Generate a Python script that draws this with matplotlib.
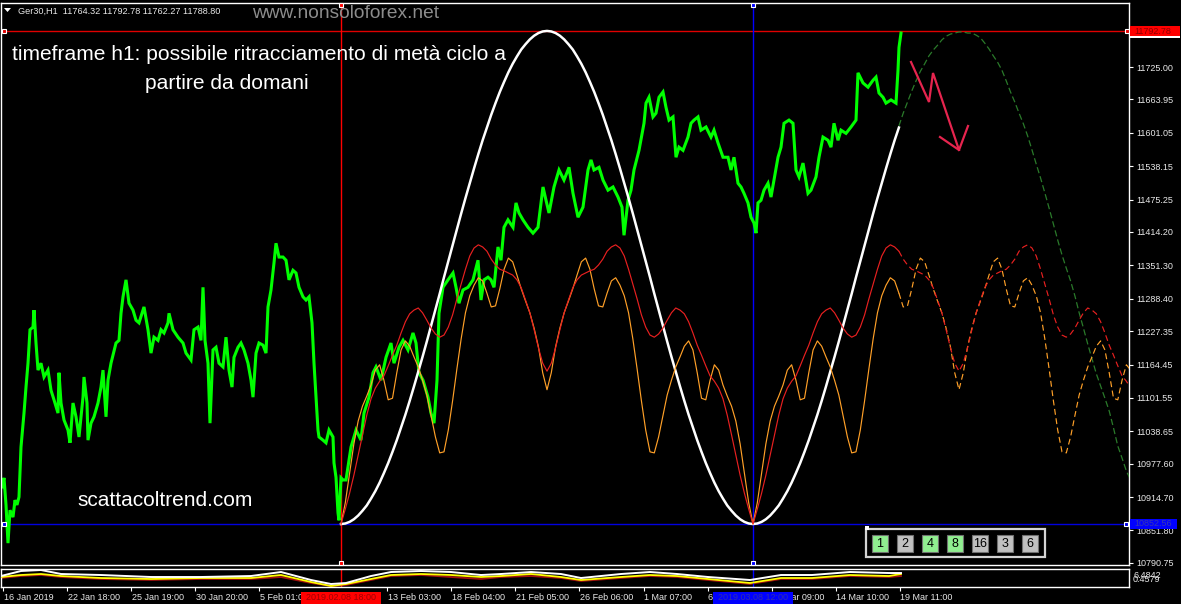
import numpy as np
import matplotlib
matplotlib.use("Agg")
import matplotlib.pyplot as plt
from matplotlib.patches import Rectangle, Polygon
from matplotlib.lines import Line2D
from matplotlib.transforms import ScaledTranslation

plt.rcParams['font.family'] = ['Liberation Sans', 'DejaVu Sans']

# ---------------- data ----------------
symbol_header = "Ger30,H1  11764.32 11792.78 11762.27 11788.80"
watermark = "www.nonsoloforex.net"
note_line1 = "timeframe h1: possibile ritracciamento di metà ciclo a"
note_line2 = "partire da domani"
site_label = "scattacoltrend.com"

# hourly price (bar index, close)
price_bars = [1, 3, 5, 7, 9, 12, 14, 16, 18, 20, 23, 25, 27, 29, 32, 33, 35, 37, 40, 43, 47, 50, 53, 57, 58,
              60, 63, 67, 69, 72, 75, 78, 82, 83, 86, 87, 90, 93, 97, 100, 102, 105, 107, 110, 115, 118, 120,
              122, 125, 128, 132, 135, 138, 142, 143, 147, 150, 153, 157, 160, 163, 167, 168, 172, 177, 182,
              185, 190, 193, 197, 200, 202, 204, 207, 209, 212, 215, 218, 222, 225, 228, 231, 233, 237, 240,
              243, 247, 250, 252, 255, 258, 262, 265, 267, 270, 273, 275, 278, 282, 285, 288, 292, 295, 298,
              302, 305, 308, 311, 313, 315, 317, 318, 322, 325, 328, 332, 333, 335, 337, 338, 340, 342, 345,
              350, 355, 360, 363, 368, 372, 375, 380, 385, 390, 393, 398, 402, 407, 412, 415, 418, 422, 427,
              430, 433, 436, 438, 442, 447, 452, 455, 458, 462, 467, 472, 477, 480, 483, 487, 490, 493, 497,
              500, 503, 507, 512, 515, 518, 522, 527, 532, 537, 542, 545, 548, 553, 558, 563, 568, 572, 577,
              582, 587, 590, 593, 598, 602, 607, 612, 617, 621, 623, 627, 630, 633, 638, 643, 645, 648, 652,
              655, 658, 662, 665, 668, 672, 675, 678, 682, 687, 690, 693, 697, 700, 705, 710, 713, 717, 722,
              727, 730, 733, 737, 740, 743, 747, 750, 753, 755, 757, 760, 763, 767, 770, 773, 777, 780, 783,
              788, 792, 795, 798, 802, 807, 810, 815, 818, 822, 827, 830, 833, 837, 840, 845, 850, 855, 857,
              862, 867, 872, 875, 878, 882, 885, 890, 895, 897, 898, 900]
price_close = [10934, 10951, 10900, 10828, 10890, 10877, 10909, 10900, 10915, 11009, 11073, 11122, 11167, 11230,
               11235, 11267, 11205, 11154, 11167, 11141, 11154, 11116, 11098, 11073, 11149, 11092, 11060, 11041,
               11017, 11092, 11066, 11028, 11103, 11141, 11092, 11022, 11054, 11066, 11092, 11122, 11154, 11066,
               11135, 11167, 11205, 11210, 11261, 11292, 11324, 11280, 11267, 11248, 11243, 11267, 11273, 11230,
               11186, 11216, 11210, 11230, 11224, 11243, 11261, 11230, 11216, 11205, 11186, 11173, 11230, 11235,
               11210, 11310, 11210, 11167, 11054, 11192, 11197, 11167, 11160, 11216, 11154, 11122, 11178, 11197,
               11205, 11192, 11167, 11135, 11103, 11186, 11205, 11201, 11186, 11273, 11305, 11356, 11393, 11367,
               11367, 11361, 11324, 11342, 11337, 11310, 11292, 11286, 11292, 11243, 11167, 11103, 11041, 11028,
               11022, 11017, 11041, 11028, 10979, 10952, 10885, 10871, 10951, 10947, 10947, 11009, 11041, 11022,
               11073, 11103, 11149, 11160, 11135, 11178, 11205, 11167, 11197, 11210, 11192, 11224, 11205, 11149,
               11135, 11103, 11073, 11054, 11135, 11261, 11310, 11324, 11337, 11310, 11280, 11305, 11310, 11324,
               11361, 11286, 11324, 11329, 11324, 11310, 11386, 11361, 11423, 11437, 11423, 11469, 11450, 11437,
               11423, 11412, 11423, 11499, 11474, 11450, 11499, 11531, 11512, 11536, 11487, 11442, 11461, 11531,
               11550, 11531, 11536, 11512, 11493, 11499, 11480, 11461, 11408, 11474, 11493, 11531, 11568, 11619,
               11657, 11668, 11631, 11638, 11668, 11678, 11649, 11625, 11631, 11555, 11574, 11568, 11593, 11619,
               11625, 11631, 11606, 11612, 11593, 11606, 11582, 11555, 11555, 11531, 11555, 11506, 11499, 11487,
               11469, 11442, 11431, 11412, 11469, 11474, 11493, 11506, 11480, 11512, 11555, 11574, 11619, 11625,
               11619, 11531, 11518, 11544, 11487, 11493, 11518, 11555, 11593, 11587, 11574, 11619, 11587, 11606,
               11600, 11612, 11625, 11714, 11695, 11687, 11700, 11706, 11676, 11668, 11657, 11663, 11657, 11719,
               11762, 11789]

# cycle lines: one value every (cycle_end_bar - cycle_start_bar)/96 bars, starting at cycle_start_bar
cycle_start_bar = 340
cycle_end_bar = 752
cycle_samples_per_period = 96

white_cycle = [10864, 10865, 10868, 10873, 10880, 10889, 10899, 10912, 10926, 10942, 10960, 10979, 11000,
               11022, 11046, 11070, 11096, 11123, 11151, 11179, 11208, 11238, 11268, 11298, 11329, 11359,
               11389, 11419, 11449, 11478, 11506, 11534, 11561, 11587, 11611, 11635, 11657, 11678, 11697,
               11715, 11731, 11745, 11758, 11768, 11777, 11784, 11789, 11792, 11793,
               11792, 11789, 11784, 11777, 11768, 11758, 11745, 11731, 11715, 11697, 11678, 11657, 11635,
               11611, 11587, 11561, 11534, 11506, 11478, 11449, 11419, 11389, 11359, 11329, 11298, 11268,
               11238, 11208, 11179, 11151, 11123, 11096, 11070, 11046, 11022, 11000, 10979, 10960, 10942,
               10926, 10912, 10899, 10889, 10880, 10873, 10868, 10865, 10864,
               10865, 10868, 10873, 10880, 10889, 10899, 10912, 10926, 10942, 10960, 10979, 11000, 11022,
               11046, 11070, 11096, 11123, 11151, 11179, 11208, 11238, 11268, 11298, 11329, 11359, 11389,
               11419, 11449, 11478, 11506, 11534, 11561, 11587, 11611]

projection_cycle = [11614, 11638, 11659, 11680, 11699, 11717, 11731, 11746, 11757, 11766, 11776, 11783, 11787,
                    11789, 11791, 11791, 11789, 11789, 11785, 11780, 11770, 11759, 11746, 11734, 11719, 11699,
                    11678, 11659, 11638, 11618, 11595, 11569, 11542, 11516, 11488, 11459, 11429, 11399, 11371,
                    11346, 11322, 11294, 11262, 11233, 11203, 11175, 11147, 11124, 11101, 11077, 11045, 11011,
                    10988, 10964, 10947]

red_cycle = [10864, 10892, 10922, 10956, 10994, 11032, 11069, 11100, 11120, 11133, 11143, 11162, 11182, 11201,
             11224, 11245, 11260, 11267, 11271, 11262, 11248, 11233, 11222, 11216, 11220, 11235, 11258, 11288,
             11316, 11344, 11369, 11384, 11390, 11386, 11378, 11363, 11352, 11344, 11341, 11337, 11333, 11324,
             11309, 11286, 11262, 11230, 11196, 11167, 11152,
             11167, 11196, 11230, 11262, 11286, 11309, 11324, 11333, 11337, 11341, 11344, 11352, 11363, 11378,
             11386, 11390, 11384, 11369, 11344, 11316, 11288, 11258, 11235, 11220, 11216, 11222, 11233, 11248,
             11262, 11271, 11267, 11260, 11245, 11224, 11201, 11182, 11162, 11143, 11133, 11120, 11100, 11069,
             11032, 10994, 10956, 10922, 10892, 10864,
             10892, 10922, 10956, 10994, 11032, 11069, 11100, 11120, 11133, 11143, 11162, 11182, 11201, 11224,
             11245, 11260, 11267, 11271, 11262, 11248, 11233, 11222, 11216, 11220, 11235, 11258, 11288, 11316,
             11344, 11369, 11384, 11390, 11386, 11378, 11363, 11352, 11344, 11341, 11337, 11333, 11324, 11309,
             11286, 11262, 11230, 11196, 11167, 11152,
             11167, 11196, 11230, 11262, 11286, 11309, 11324, 11333, 11337, 11341, 11344, 11352, 11363, 11378,
             11386, 11390, 11384, 11369, 11344, 11316, 11288, 11258, 11235, 11220, 11216, 11222, 11233, 11248,
             11262, 11271, 11267, 11260, 11245, 11224, 11201, 11182, 11162, 11143, 11133, 11120]

orange_cycle = [10864, 10904, 10960, 11015, 11058, 11086, 11105, 11126, 11154, 11164, 11135, 11098, 11101,
                11149, 11192, 11209, 11199, 11179, 11160, 11135, 11107, 11068, 11028, 10998, 11000, 11041,
                11096, 11156, 11213, 11262, 11294, 11314, 11328, 11322, 11299, 11273, 11275, 11307, 11344,
                11365, 11358, 11333, 11307, 11284, 11262, 11233, 11198, 11149, 11117,
                11149, 11198, 11233, 11262, 11284, 11307, 11333, 11358, 11365, 11344, 11307, 11275, 11273,
                11299, 11322, 11328, 11314, 11294, 11262, 11213, 11156, 11096, 11041, 11000, 10998, 11028,
                11068, 11107, 11135, 11160, 11179, 11199, 11209, 11192, 11149, 11101, 11098, 11135, 11164,
                11154, 11126, 11105, 11086, 11058, 11015, 10960, 10904, 10864,
                10904, 10960, 11015, 11058, 11086, 11105, 11126, 11154, 11164, 11135, 11098, 11101, 11149,
                11192, 11209, 11199, 11179, 11160, 11135, 11107, 11068, 11028, 10998, 11000, 11041, 11096,
                11156, 11213, 11262, 11294, 11314, 11328, 11322, 11299, 11273, 11275, 11307, 11344, 11365,
                11358, 11333, 11307, 11284, 11262, 11233, 11198, 11149, 11117,
                11149, 11198, 11233, 11262, 11284, 11307, 11333, 11358, 11365, 11344, 11307, 11275, 11273,
                11299, 11322, 11328, 11314, 11294, 11262, 11213, 11156, 11096, 11041, 11000, 10998, 11028,
                11068, 11107, 11135, 11160, 11179, 11199, 11209, 11192, 11149, 11101, 11098, 11135, 11164,
                11154]

level_high = 11792.78
level_low = 10864.2
level_high_label = "11792.78"
level_low_label = "10852.56"

price_ticks = [11725.00, 11663.95, 11601.05, 11538.15, 11475.25, 11414.20, 11351.30, 11288.40,
               11227.35, 11164.45, 11101.55, 11038.65, 10977.60, 10914.70, 10851.80, 10790.75]

time_tick_bars = [2, 66, 130, 194, 258, 386, 450, 514, 578, 643, 707, 771, 835, 899]
time_tick_labels = ["16 Jan 2019", "22 Jan 18:00", "25 Jan 19:00", "30 Jan 20:00", "5 Feb 01:00",
                    "13 Feb 03:00", "18 Feb 04:00", "21 Feb 05:00", "26 Feb 06:00", "1 Mar 07:00",
                    "6 Mar 08:00", "11 Mar 09:00", "14 Mar 10:00", "19 Mar 11:00"]
cycle_start_label = "2019.02.08 18:00"
cycle_end_label = "2019.03.08 12:00"

osc_bars = [0, 20, 40, 60, 100, 150, 200, 250, 280, 310, 330, 345, 370, 390, 420, 450, 480, 500, 530,
            560, 580, 620, 649, 676, 707, 749, 780, 811, 849, 888, 900]
osc_white = [5.71, 8.10, 8.57, 6.67, 6.19, 5.24, 5.24, 5.71, 7.62, 3.81, 1.90, 2.38, 5.71, 7.62, 8.10, 7.62,
             6.19, 6.67, 7.62, 6.67, 4.76, 6.67, 7.62, 6.67, 5.24, 3.81, 6.19, 6.19, 7.62, 7.14, 7.14]
osc_yellow = [5.24, 6.19, 6.67, 5.71, 4.76, 4.29, 4.76, 4.76, 6.19, 2.86, 0.95, 1.90, 4.29, 6.19, 6.67, 6.19,
              5.24, 5.71, 6.67, 5.24, 3.81, 5.24, 6.19, 5.71, 4.29, 2.38, 4.76, 4.76, 6.19, 5.71, 6.67]
osc_red = [4.76, 5.71, 6.19, 5.24, 4.29, 3.81, 4.29, 4.29, 5.24, 2.38, 0.95, 1.43, 3.81, 5.71, 6.19, 5.24,
           4.29, 5.24, 5.71, 4.76, 3.33, 4.76, 5.71, 5.24, 3.81, 1.90, 4.29, 4.29, 5.71, 5.24, 5.71]
osc_text = "Target(55) 0.4962 KST-GT 2.0035 4.4119 0.6174"
osc_max_label = "6.4842"
osc_min_label = "0.4579"

button_labels = ["1", "2", "4", "8", "16", "3", "6"]
button_active = [True, False, True, True, False, False, False]

# ---------------- figure ----------------
W, H = 1181, 604
fig = plt.figure(figsize=(W / 100, H / 100), dpi=100, facecolor='black')


def fxy(x, y):
    return (x / W, 1 - y / H)


def frect(x0, y0, x1, y1, **kw):
    r = Rectangle((x0 / W, 1 - y1 / H), (x1 - x0) / W, (y1 - y0) / H,
                  transform=fig.transFigure, **kw)
    fig.add_artist(r)
    return r


TXT = '#e8e8e8'
RED_LINE = '#ff0000'
BLUE_LINE = '#0000ff'

# main price panel
ax = fig.add_axes([1 / W, 1 - 565 / H, 1128 / W, 562 / H])
ax.set_facecolor('black')
ax.set_xlim(0, 1128)
ax.set_ylim(10786.8, 11845.6)
for s in ax.spines.values():
    s.set_color('white')
    s.set_linewidth(1)
ax.yaxis.tick_right()
ax.set_yticks(price_ticks)
ax.set_yticklabels([f"{v:.2f}" for v in price_ticks])
ax.tick_params(axis='y', direction='out', length=3, width=0.8, color='white',
               labelcolor=TXT, labelsize=6.5, pad=2)
ax.set_xticks([])

cycle_step = (cycle_end_bar - cycle_start_bar) / cycle_samples_per_period
cycle_bars = cycle_start_bar + np.arange(len(red_cycle)) * cycle_step
n_solid = int(np.searchsorted(cycle_bars, price_bars[-1], side='right'))

# horizontal levels and vertical cycle markers
ax.axhline(level_high, color='#e00000', lw=1.0, zorder=1.5)
ax.axhline(level_low, color='#0000e0', lw=1.0, zorder=1.5)
ax.axvline(cycle_start_bar, color=RED_LINE, lw=1.0, zorder=1.5)
ax.axvline(cycle_end_bar, color=BLUE_LINE, lw=1.0, zorder=1.5)

# price
ax.plot(price_bars, price_close, color='#00ff00', lw=2.2, zorder=2, solid_joinstyle='miter')

# cycle lines
wb = cycle_bars[:len(white_cycle)]
ax.plot(wb, white_cycle, color='white', lw=1.8, zorder=3)
p0 = len(white_cycle) - 1
pb = cycle_bars[p0:p0 + len(projection_cycle)]
ax.plot(pb, projection_cycle[:len(pb)], color='#2a7a2a', lw=0.9, ls=(0, (5, 2.5)), zorder=3)

ob = cycle_bars[:len(orange_cycle)]
ax.plot(ob[:n_solid], orange_cycle[:n_solid], color='#ffa028', lw=0.85, zorder=4)
ax.plot(ob[n_solid - 1:], orange_cycle[n_solid - 1:], color='#ffa028', lw=0.85, ls=(0, (5, 3)), zorder=4)
rb = cycle_bars[:len(red_cycle)]
ax.plot(rb[:n_solid], red_cycle[:n_solid], color='#e82020', lw=0.85, zorder=5)
ax.plot(rb[n_solid - 1:], red_cycle[n_solid - 1:], color='#e82020', lw=0.85, ls=(0, (5, 3)), zorder=5)

# small anchor squares on the lines
ylo, yhi = ax.get_ylim()
mk = dict(marker='s', ms=3.2, mec='white', mew=0.8, ls='none', zorder=6, clip_on=False)
ax.plot([cycle_start_bar, cycle_start_bar], [yhi - 3.5, ylo + 4], mfc=RED_LINE, **mk)
ax.plot([cycle_end_bar, cycle_end_bar], [yhi - 3.5, ylo + 4], mfc=BLUE_LINE, **mk)
ax.plot([3, 1126], [level_high, level_high], mfc='#e00000', **mk)
ax.plot([3, 1125], [level_low, level_low], mfc='#0000e0', **mk)

# oscillator panel
axi = fig.add_axes([1 / W, 1 - 586.6 / H, 1128 / W, 18.1 / H])
axi.set_facecolor('black')
axi.set_xlim(0, 1128)
axi.set_ylim(0.67, 9.29)
for s in axi.spines.values():
    s.set_color('white')
    s.set_linewidth(1)
axi.set_yticks([])
axi.text(4, 0.5, osc_text, transform=axi.get_yaxis_transform(), fontsize=6.5, color='#a8a8a8',
         va='center', ha='left', zorder=1)
axi.plot(osc_bars, osc_red, color='#a01010', lw=1.3, zorder=2)
axi.plot(osc_bars, osc_yellow, color='#ffff00', lw=1.3, zorder=3)
axi.plot(osc_bars, osc_white, color='white', lw=1.4, zorder=4)
axi.axvline(cycle_start_bar, color=RED_LINE, lw=1.0)
axi.axvline(cycle_end_bar, color=BLUE_LINE, lw=1.0)
axi.set_xticks(time_tick_bars)
axi.set_xticklabels(time_tick_labels)
axi.tick_params(axis='x', direction='out', length=3, width=0.8, color='white',
                labelcolor=TXT, labelsize=6.5, pad=1.5)
shift = ScaledTranslation(0.5 / 100, 0, fig.dpi_scale_trans)
for lab in axi.get_xticklabels():
    lab.set_ha('left')
    lab.set_transform(lab.get_transform() + shift)

# right-hand oscillator labels
fig.text(*fxy(1133, 575), osc_max_label, fontsize=6.5, color=TXT, va='center', ha='left')
fig.text(*fxy(1133, 579), osc_min_label, fontsize=6.5, color=TXT, va='center', ha='left')

# price label boxes on the right axis
frect(1130, 25.5, 1180, 36, fc='#ff0000', ec='none', zorder=5)
frect(1130, 36, 1180, 38, fc='white', ec='none', zorder=5)
fig.text(*fxy(1134, 31), level_high_label, fontsize=6.5, color='#900000', va='center', ha='left', zorder=6)
frect(1130, 518.7, 1177, 528.5, fc='#0000ff', ec='none', zorder=5)
fig.text(*fxy(1134, 523.6), level_low_label, fontsize=6.5, color='#3838b0', va='center', ha='left', zorder=6)

# date label boxes under the vertical lines
xs = ax.transData.transform([(cycle_start_bar, ylo), (cycle_end_bar, ylo)])[:, 0]
for xc, lab, fc, tc in [(xs[0], cycle_start_label, '#ff0000', '#a00000'),
                        (xs[1], cycle_end_label, '#0000ff', '#3030a8')]:
    frect(xc - 40, 591.5, xc + 40, 604, fc=fc, ec='none', zorder=5)
    fig.text(xc / W, 1 - 597.5 / H, lab, fontsize=6.5, color=tc, va='center', ha='center', zorder=6)

# header and annotations
fig.add_artist(Polygon([fxy(4, 8), fxy(11, 8), fxy(7.5, 12)], closed=True, transform=fig.transFigure,
                       fc='white', ec='none'))
fig.text(*fxy(18, 14), symbol_header, fontsize=6.6, color=TXT, va='baseline', ha='left')
fig.text(*fxy(252, 18.5), watermark, fontsize=13.8, color='#8c8c8c', va='baseline', ha='left')
fig.text(*fxy(12, 59.5), note_line1, fontsize=15.1, color='white', va='baseline', ha='left')
fig.text(*fxy(145, 89), note_line2, fontsize=15.1, color='white', va='baseline', ha='left')
fig.text(*fxy(77, 505.5), site_label, fontsize=15, color='white', va='baseline', ha='left')

# red hand-drawn arrow
arrow_color = '#e6244e'
fig.add_artist(Line2D([911 / W, 929 / W, 933 / W, 959 / W],
                      [1 - 62 / H, 1 - 102 / H, 1 - 73 / H, 1 - 150 / H],
                      transform=fig.transFigure, color=arrow_color, lw=1.6, solid_joinstyle='miter'))
fig.add_artist(Line2D([940 / W, 959 / W, 968 / W], [1 - 137 / H, 1 - 150 / H, 1 - 126 / H],
                      transform=fig.transFigure, color=arrow_color, lw=1.6))

# cycle selector buttons
frect(866, 529, 1045, 557, fc='black', ec='#d4d4d4', lw=1.6, zorder=5)
frect(864.5, 526, 868.5, 530, fc='white', ec='none', zorder=6)
for i, (lab, on) in enumerate(zip(button_labels, button_active)):
    x0 = 872 + i * 25
    frect(x0, 535, x0 + 16, 552, fc='#90ee90' if on else '#c0c0c0', ec='#707070', lw=0.8, zorder=6)
    fig.text(*fxy(x0 + 8, 544), lab, fontsize=9, color='black', va='center', ha='center', zorder=7)

fig.savefig('out.png', dpi=100, facecolor='black')
